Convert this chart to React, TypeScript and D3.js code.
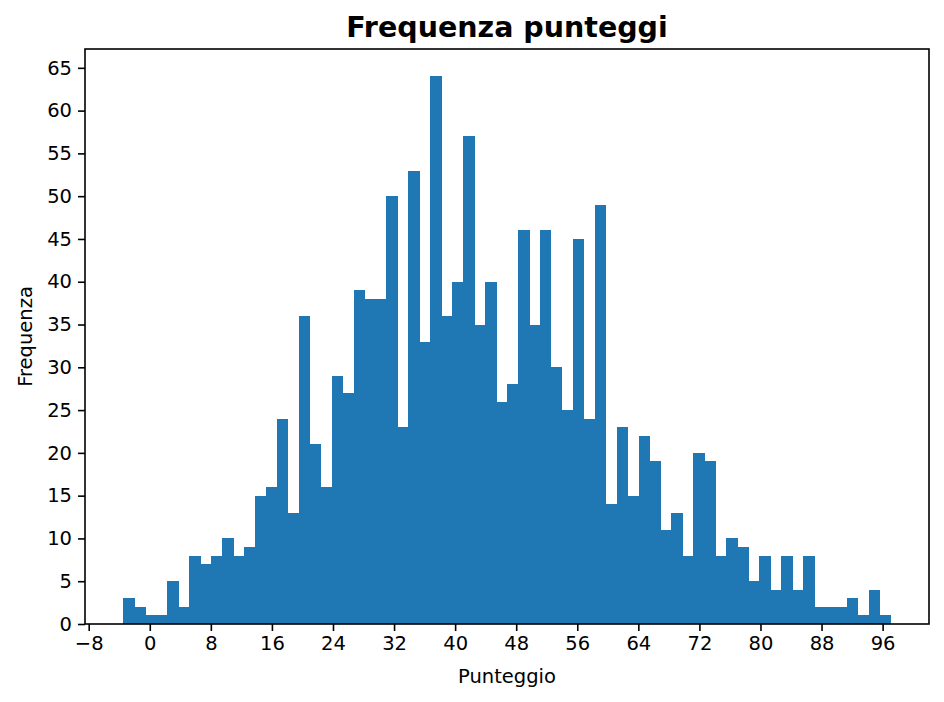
import React, { useEffect, useRef } from "react";
import * as d3 from "d3";

const counts: number[] = [3, 2, 1, 1, 5, 2, 8, 7, 8, 10, 8, 9, 15, 16, 24, 13, 36, 21, 16, 29, 27, 39, 38, 38, 50, 23, 53, 33, 64, 36, 40, 57, 35, 40, 26, 28, 46, 35, 46, 30, 25, 45, 24, 49, 14, 23, 15, 22, 19, 11, 13, 8, 20, 19, 8, 10, 9, 5, 8, 4, 8, 4, 8, 2, 2, 2, 3, 1, 4, 1];
const binStart = -3.46;
const binEnd = 97.05;
const xTicks: number[] = [-8, 0, 8, 16, 24, 32, 40, 48, 56, 64, 72, 80, 88, 96];
const yTicks: number[] = [0, 5, 10, 15, 20, 25, 30, 35, 40, 45, 50, 55, 60, 65];
const title = "Frequenza punteggi";
const xLabel = "Punteggio";
const yLabel = "Frequenza";

const W = 944, H = 702;
const L = 85, R = 929, T = 49, B = 624;

export default function App() {
  const ref = useRef<SVGSVGElement>(null);
  useEffect(() => {
    const svg = d3.select(ref.current);
    svg.selectAll("*").remove();
    const bw = (binEnd - binStart) / counts.length;
    const pad = (binEnd - binStart) * 0.05;
    const x = d3.scaleLinear().domain([binStart - pad, binEnd + pad]).range([L, R]);
    const ymax = d3.max(counts)! * 1.05;
    const y = d3.scaleLinear().domain([0, ymax]).range([B, T]);
    const font = "DejaVu Sans, sans-serif";

    svg.append("g").selectAll("rect").data(counts).join("rect")
      .attr("x", (_d, i) => x(binStart + i * bw))
      .attr("width", (_d, i) => x(binStart + (i + 1) * bw) - x(binStart + i * bw) + 0.6)
      .attr("y", d => y(d))
      .attr("height", d => B - y(d))
      .attr("fill", "#1f77b4")
      .attr("shape-rendering", "crispEdges");

    const xa = svg.append("g").attr("transform", `translate(0,${B})`)
      .call(d3.axisBottom(x).tickValues(xTicks).tickSize(7).tickPadding(5).tickFormat(d => d3.format("d")(d as number).replace("-", "\u2212")));
    const ya = svg.append("g").attr("transform", `translate(${L},0)`)
      .call(d3.axisLeft(y).tickValues(yTicks).tickSize(7).tickPadding(6));
    for (const a of [xa, ya]) {
      a.select(".domain").remove();
      a.selectAll("line").attr("stroke", "#000").attr("stroke-width", 1.6);
      a.selectAll("text").attr("font-family", font).attr("font-size", 19.5).attr("fill", "#000");
    }

    svg.append("rect").attr("x", L).attr("y", T).attr("width", R - L).attr("height", B - T)
      .attr("fill", "none").attr("stroke", "#000").attr("stroke-width", 1.6);

    svg.append("text").attr("x", (L + R) / 2).attr("y", 37).attr("text-anchor", "middle")
      .attr("font-family", font).attr("font-size", 28.5).attr("font-weight", "bold").text(title);
    svg.append("text").attr("x", (L + R) / 2).attr("y", 683).attr("text-anchor", "middle")
      .attr("font-family", font).attr("font-size", 19.5).text(xLabel);
    svg.append("text").attr("transform", `translate(31.5,${(T + B) / 2}) rotate(-90)`).attr("text-anchor", "middle")
      .attr("font-family", font).attr("font-size", 19.5).text(yLabel);
  }, []);
  return (
    <svg ref={ref} width={W} height={H} style={{ position: "absolute", left: 0, top: 0, background: "#fff" }} />
  );
}
